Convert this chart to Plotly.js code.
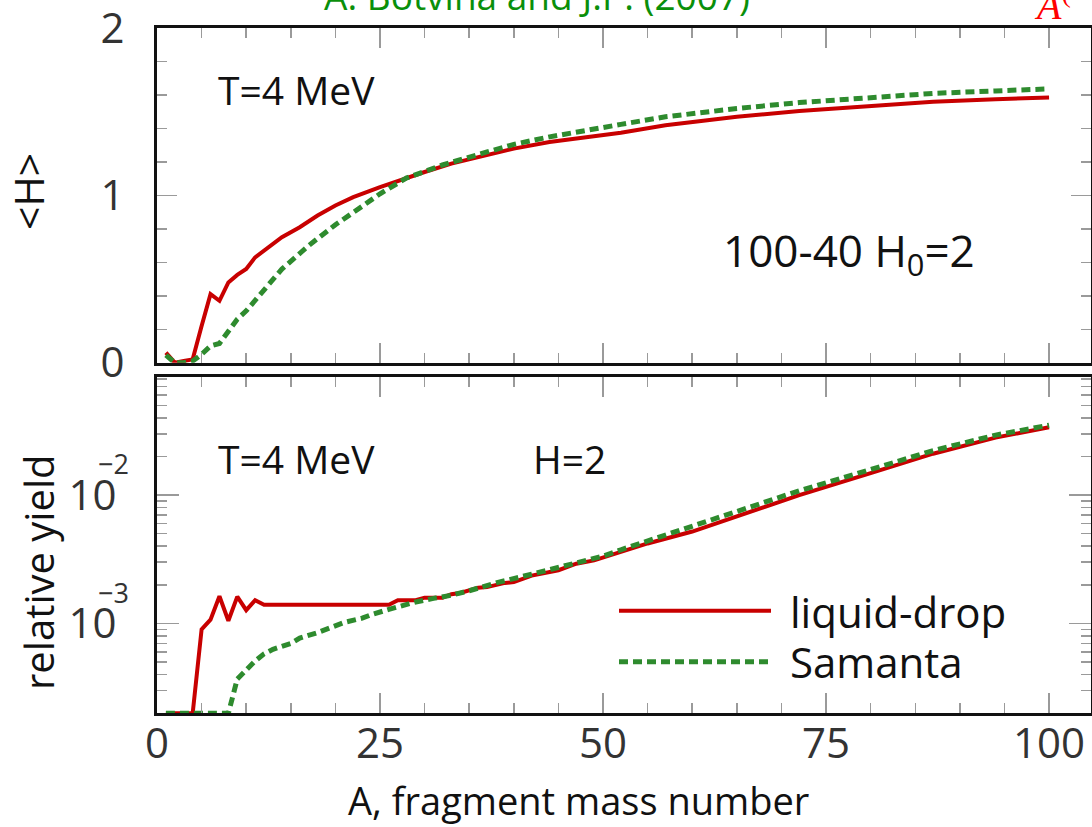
<!DOCTYPE html>
<html><head><meta charset="utf-8">
<script src="https://cdn.plot.ly/plotly-3.0.1.min.js"></script>
<style>html,body{margin:0;padding:0;background:#fff}#chart{width:1092px;height:827px}</style>
</head><body><div id="chart"></div>
<script>
// ---- data ----
const seriesNames = ['liquid-drop', 'Samanta'];

// top panel: <H> vs A
const hLiquidA = [1,2,3,4,5,6,7,8,9,10,11,12,13,14,16,18,20,22,25,28,30,33,37,40,44,48,52,57,65,72,80,87,94,100];
const hLiquidV = [0.06,0.0,0.01,0.02,0.22,0.41,0.37,0.48,0.525,0.56,0.63,0.67,0.71,0.75,0.81,0.88,0.94,0.99,1.05,1.105,1.14,1.19,1.24,1.28,1.32,1.35,1.375,1.42,1.47,1.505,1.535,1.56,1.575,1.585];
const hSamantaA = [1,2,3,4,5,6,7,8,9,10,11,12,14,17,20,23,25,28,32,37,40,44,48,52,57,65,72,80,87,94,100];
const hSamantaV = [0.045,0.0,0.0,0.01,0.05,0.10,0.115,0.19,0.26,0.31,0.375,0.44,0.56,0.70,0.825,0.935,1.01,1.105,1.182,1.26,1.305,1.35,1.39,1.425,1.47,1.52,1.555,1.585,1.61,1.625,1.637];

// bottom panel: relative yield vs A
const yLiquidA = [1,2,3,4,5,6,7,8,9,10,11,12,26,27,29,30,32,33,34,36,37,39,40,42,45,47,49,52,55,60,65,72,80,87,94,100];
const yLiquidV = [2e-4,2e-4,2e-4,2e-4,9.0e-4,1.07e-3,1.63e-3,1.05e-3,1.62e-3,1.27e-3,1.52e-3,1.40e-3,1.40e-3,1.52e-3,1.52e-3,1.59e-3,1.59e-3,1.69e-3,1.73e-3,1.9e-3,1.92e-3,2.07e-3,2.1e-3,2.36e-3,2.6e-3,2.92e-3,3.1e-3,3.6e-3,4.2e-3,5.2e-3,6.8e-3,1.0e-2,1.48e-2,2.1e-2,2.8e-2,3.37e-2];
const ySamantaA = [1,2,3,4,5,6,7,8,9,10,11,12,13,15,16,18,20,21,23,24,26,28,29,31,33,35,38,42,46,50,52,55,60,65,72,80,87,94,100];
const ySamantaV = [2e-4,2e-4,2e-4,2e-4,2e-4,2e-4,2e-4,2e-4,3.7e-4,4.4e-4,5.1e-4,5.8e-4,6.3e-4,7.0e-4,7.7e-4,8.5e-4,9.5e-4,1.02e-3,1.1e-3,1.17e-3,1.29e-3,1.41e-3,1.47e-3,1.57e-3,1.66e-3,1.8e-3,2.07e-3,2.42e-3,2.85e-3,3.35e-3,3.75e-3,4.4e-3,5.7e-3,7.4e-3,1.08e-2,1.58e-2,2.22e-2,2.93e-2,3.5e-2];

// tick labels
const xTickVals = [0,25,50,75,100];
const topYTickVals = [0,1,2];
const logTickVals = [0.001, 0.01];
const logTickText = ['10','10'];
const logExpText = ['\u22123','\u22122'];
const logMinorVals = [2e-4,3e-4,4e-4,5e-4,6e-4,7e-4,8e-4,9e-4,2e-3,3e-3,4e-3,5e-3,6e-3,7e-3,8e-3,9e-3,2e-2,3e-2,4e-2,5e-2,6e-2,7e-2,8e-2];

// ---- layout geometry (pixels) ----
const W = 1092, H = 827, PL = 157, PR = 1091, PT = 28, PB = 713;
const px = x => (x - PL) / (PR - PL);
const py = y => (PB - y) / (PB - PT);

const RED = '#c80000', GREEN = '#2e8b2e';
const FONT = 'Open Sans, Noto Sans, sans-serif';
const TICKC = '#9a9a9a';

const traces = [
  {x: hLiquidA, y: hLiquidV, xaxis:'x', yaxis:'y', mode:'lines', name: seriesNames[0],
   line:{color:RED, width:4}, showlegend:false},
  {x: hSamantaA, y: hSamantaV, xaxis:'x', yaxis:'y', mode:'lines', name: seriesNames[1],
   line:{color:GREEN, width:5, dash:'9px,5px'}, showlegend:false},
  {x: yLiquidA, y: yLiquidV, xaxis:'x2', yaxis:'y2', mode:'lines', name: seriesNames[0],
   line:{color:RED, width:4}, showlegend:false},
  {x: ySamantaA, y: ySamantaV, xaxis:'x2', yaxis:'y2', mode:'lines', name: seriesNames[1],
   line:{color:GREEN, width:5, dash:'9px,5px'}, showlegend:false}
];

const xCommon = {
  range:[0,104.7], showline:true, linewidth:3, linecolor:'#111', mirror:'allticks',
  ticks:'inside', tickvals:xTickVals, ticklen:20, tickwidth:1.5, tickcolor:TICKC,
  minor:{dtick:5, tick0:0, ticks:'inside', ticklen:10, tickwidth:1.5, tickcolor:TICKC},
  showgrid:false, zeroline:false, fixedrange:true, ticklabeloverflow:'allow'
};

const layout = {
  width:W, height:H, paper_bgcolor:'#fff', plot_bgcolor:'#fff',
  margin:{l:PL, r:W-PR, t:PT, b:H-PB, pad:0},
  font:{family:FONT, color:'#222'},
  showlegend:false,
  xaxis: Object.assign({}, xCommon, {domain:[0,1], anchor:'y', showticklabels:false}),
  yaxis: {domain:[py(362.7),1], anchor:'x', range:[0,2.001], showline:true, linewidth:3, linecolor:'#111',
    mirror:'allticks', ticks:'inside', tickvals:topYTickVals, ticklen:20, tickwidth:1.5, tickcolor:TICKC,
    minor:{dtick:0.2, tick0:0, ticks:'inside', ticklen:10, tickwidth:1.5, tickcolor:TICKC},
    tickfont:{size:42, color:'#333', family:FONT}, ticklabelstandoff:21, ticklabeloverflow:'allow',
    showgrid:false, zeroline:false, fixedrange:true},
  xaxis2: Object.assign({}, xCommon, {domain:[0,1], anchor:'y2', showticklabels:true,
    tickfont:{size:42, color:'#333', family:FONT}, ticklabelstandoff:-8}),
  yaxis2: {domain:[0,py(377.3)], anchor:'x2', type:'log', range:[Math.log10(2.01e-4), Math.log10(0.0826)],
    showline:true, linewidth:3, linecolor:'#111', mirror:'allticks', ticks:'inside',
    tickmode:'array', tickvals:logTickVals, ticktext:logTickText, ticklen:22, tickwidth:1.5, tickcolor:TICKC,
    minor:{tickmode:'array', tickvals:logMinorVals, ticks:'inside', ticklen:10, tickwidth:1.5, tickcolor:TICKC},
    tickfont:{size:42, color:'#333', family:FONT}, ticklabelstandoff:29, ticklabeloverflow:'allow',
    showgrid:false, zeroline:false, fixedrange:true},
  shapes: [
    {type:'line', xref:'paper', yref:'paper', x0:px(619), x1:px(771), y0:py(610.7), y1:py(610.7),
     line:{color:RED, width:4}},
    {type:'line', xref:'paper', yref:'paper', x0:px(619), x1:px(771), y0:py(661.7), y1:py(661.7),
     line:{color:GREEN, width:5, dash:'9px,5px'}}
  ],
  annotations: [
    {text:'T=4 MeV', xref:'paper', yref:'paper', x:px(296.5), y:py(89), xanchor:'center', yanchor:'middle',
     showarrow:false, font:{size:39, color:'#111', family:FONT}},
    {text:'100-40 H<sub>0</sub>=2', xref:'paper', yref:'paper', x:px(848.5), y:py(252), xanchor:'center', yanchor:'middle',
     showarrow:false, font:{size:44, color:'#111', family:FONT}},
    {text:'T=4 MeV', xref:'paper', yref:'paper', x:px(296.5), y:py(458.5), xanchor:'center', yanchor:'middle',
     showarrow:false, font:{size:39, color:'#111', family:FONT}},
    {text:'H=2', xref:'paper', yref:'paper', x:px(569), y:py(458.5), xanchor:'center', yanchor:'middle',
     showarrow:false, font:{size:39, color:'#111', family:FONT}},
    {text:seriesNames[0], xref:'paper', yref:'paper', x:px(788), y:py(611), xanchor:'left', yanchor:'middle',
     showarrow:false, font:{size:42, color:'#111', family:FONT}},
    {text:seriesNames[1], xref:'paper', yref:'paper', x:px(788), y:py(661), xanchor:'left', yanchor:'middle',
     showarrow:false, font:{size:42, color:'#111', family:FONT}},
    {text:'&lt;H&gt;', xref:'paper', yref:'paper', x:px(28), y:py(192), xanchor:'center', yanchor:'middle',
     textangle:-90, showarrow:false, font:{size:41, color:'#111', family:FONT}},
    {text:'relative yield', xref:'paper', yref:'paper', x:px(38), y:py(572), xanchor:'center', yanchor:'middle',
     textangle:-90, showarrow:false, font:{size:40, color:'#111', family:FONT}},
    {text:'A, fragment mass number', xref:'paper', yref:'paper', x:px(578), y:py(800), xanchor:'center', yanchor:'middle',
     showarrow:false, font:{size:38, color:'#111', family:FONT}},
    {text:logExpText[0], xref:'paper', yref:'paper', x:px(113), y:py(592), xanchor:'center', yanchor:'middle',
     showarrow:false, font:{size:27, color:'#333', family:FONT}},
    {text:logExpText[1], xref:'paper', yref:'paper', x:px(113), y:py(463), xanchor:'center', yanchor:'middle',
     showarrow:false, font:{size:27, color:'#333', family:FONT}},
    {text:'A. Botvina and J.P. (2007)', xref:'paper', yref:'paper', x:px(537), y:py(-4), xanchor:'center', yanchor:'middle',
     showarrow:false, font:{size:37, color:'#0a8f0a', family:FONT}},
    {text:'<i>A</i><sup>(</sup>', xref:'paper', yref:'paper', x:px(1032), y:py(2), xanchor:'left', yanchor:'middle',
     showarrow:false, font:{size:40, color:'#ff0000', family:'Liberation Serif, serif'}}
  ]
};

Plotly.newPlot('chart', traces, layout, {staticPlot:true, displayModeBar:false});
</script>
</body></html>
